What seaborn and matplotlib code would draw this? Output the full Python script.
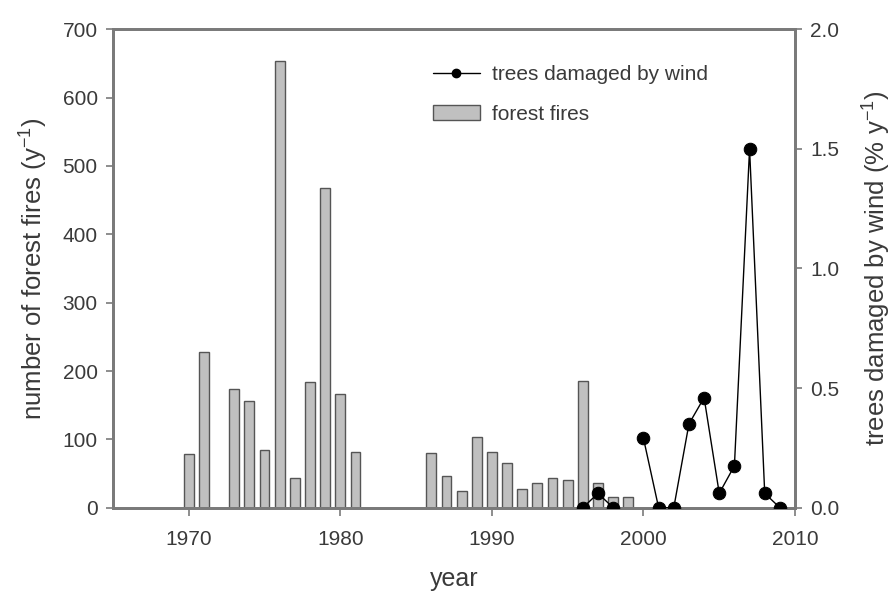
import numpy as np
import pandas as pd
import matplotlib
matplotlib.use('Agg')
import matplotlib.pyplot as plt
import seaborn as sns
from matplotlib.lines import Line2D
from matplotlib.patches import Patch

# Forest fire counts per year
fire_years = [1970, 1971, 1973, 1974, 1975, 1976, 1977, 1978, 1979, 1980, 1981,
              1986, 1987, 1988, 1989, 1990, 1991, 1992, 1993, 1994, 1995, 1996,
              1997, 1998, 1999]
fire_counts = [78, 228, 174, 156, 85, 653, 44, 184, 468, 167, 82,
               80, 46, 25, 104, 81, 66, 27, 36, 44, 41, 186,
               36, 16, 16]

# Trees damaged by wind (% per year), 1999 missing
wind_years = [1996, 1997, 1998, 1999, 2000, 2001, 2002, 2003, 2004, 2005, 2006, 2007, 2008, 2009]
wind_damage = [0.0, 0.06, 0.0, np.nan, 0.29, 0.0, 0.0, 0.35, 0.46, 0.06, 0.175, 1.5, 0.06, 0.0]

sns.set_style('ticks')
plt.rcParams['font.family'] = ['Liberation Sans', 'DejaVu Sans']
plt.rcParams['mathtext.default'] = 'regular'

txt = '#3a3a3a'
spine_col = '#7a7a7a'

df_fire = pd.DataFrame({'year': fire_years, 'fires': fire_counts})
df_wind = pd.DataFrame({'year': wind_years, 'wind': wind_damage})
# split the line where data is missing
df_wind['segment'] = df_wind['wind'].isna().cumsum()
df_wind = df_wind.dropna()

fig = plt.figure(figsize=(8.94, 5.94), dpi=100)
ax = fig.add_axes([0.1264, 0.1453, 0.7629, 0.8054])

sns.barplot(data=df_fire, x='year', y='fires', native_scale=True, width=0.65,
            color='#c0c0c0', saturation=1, edgecolor='#555555', linewidth=1.0, ax=ax)
ax.set_xlim(1965, 2010)
ax.set_ylim(0, 700)
ax.set_xticks([1970, 1980, 1990, 2000, 2010])
ax.set_yticks(range(0, 701, 100))
ax.set_xlabel('year', fontsize=18, color=txt, labelpad=13)
ax.set_ylabel('number of forest fires (y$^{-1}$)', fontsize=18.5, color=txt, labelpad=9)

ax2 = ax.twinx()
sns.lineplot(data=df_wind, x='year', y='wind', units='segment', estimator=None,
             color='black', linewidth=1.0, marker='o', markersize=9,
             markeredgecolor='black', ax=ax2, legend=False, zorder=5)
ax2.set_ylim(0, 2.0)
ax2.set_yticks([0, 0.5, 1.0, 1.5, 2.0])
ax2.set_yticklabels(['0.0', '0.5', '1.0', '1.5', '2.0'])
ax2.set_xlim(1965, 2010)
ax2.set_ylabel('trees damaged by wind (% y$^{-1}$)', fontsize=18.5, color=txt, labelpad=15)

for a in (ax, ax2):
    for s in a.spines.values():
        s.set_color(spine_col)
        s.set_linewidth(2)
        s.set_visible(True)
    a.tick_params(colors=spine_col, labelcolor=txt, labelsize=15, width=1.2, length=5, pad=6)
ax.tick_params(axis='x', length=6, pad=10)

handles = [Line2D([0], [0], color='black', lw=1, marker='o', markersize=6),
           Patch(facecolor='#c0c0c0', edgecolor='#555555')]
ax2.legend(handles, ['trees damaged by wind', 'forest fires'], loc='upper left',
           bbox_to_anchor=(0.469, 0.925), frameon=False, fontsize=15,
           labelcolor=txt, handlelength=2.26, handletextpad=0.58,
           labelspacing=1.0, borderpad=0, borderaxespad=0)

fig.savefig('out.png', dpi=100)
